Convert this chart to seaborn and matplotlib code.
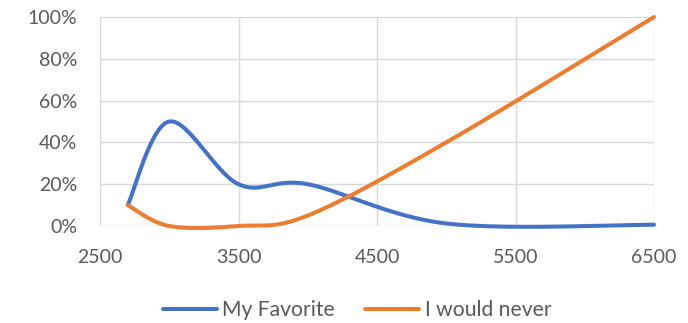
import numpy as np
import pandas as pd
import matplotlib
matplotlib.use("Agg")
import matplotlib.pyplot as plt
import seaborn as sns
from matplotlib.ticker import FuncFormatter
from matplotlib.lines import Line2D

# Data: share of votes per colour temperature (K)
x_values = [2700, 3000, 3500, 4000, 5000, 6500]
my_favorite = [0.10, 0.50, 0.20, 0.20, 0.012, 0.006]
would_never = [0.10, 0.0, 0.0, 0.05, 0.40, 1.00]
series_names = ["My Favorite", "I would never"]
colors = ["#4472C4", "#ED7D31"]
x_ticks = [2500, 3500, 4500, 5500, 6500]
y_ticks = [0, 0.2, 0.4, 0.6, 0.8, 1.0]


def smooth_curve(xs, ys, steps=60):
    """Bezier smoothing through the given points (spreadsheet-style smoothed line)."""
    p = np.column_stack([xs, ys]).astype(float)
    n = len(p)
    out = []
    for i in range(n - 1):
        p0 = p[i - 1] if i > 0 else p[i]
        p1, p2 = p[i], p[i + 1]
        p3 = p[i + 2] if i + 2 < n else p[i + 1]
        c1 = p1 + (p2 - p0) / 6.0
        c2 = p2 - (p3 - p1) / 6.0
        t = np.linspace(0, 1, steps, endpoint=(i == n - 2))[:, None]
        seg = ((1 - t) ** 3) * p1 + 3 * ((1 - t) ** 2) * t * c1 \
            + 3 * (1 - t) * t ** 2 * c2 + t ** 3 * p2
        out.append(seg)
    return np.vstack(out)


frames = []
for name, ys in zip(series_names, [my_favorite, would_never]):
    c = smooth_curve(x_values, ys)
    frames.append(pd.DataFrame({"x": c[:, 0], "y": c[:, 1], "series": name}))
df = pd.concat(frames, ignore_index=True)

sns.set_theme(style="white")
plt.rcParams["font.family"] = ["Lato", "DejaVu Sans"]

fig = plt.figure(figsize=(6.88, 3.23), dpi=100)
ax = fig.add_axes([100 / 688, 1 - 226 / 323, 554 / 688, 209 / 323])

sns.lineplot(data=df, x="x", y="y", hue="series", hue_order=series_names,
             palette=colors, sort=False, estimator=None,
             linewidth=2.9, ax=ax, legend=False, solid_capstyle="round")
for ln in ax.lines:
    ln.set_clip_on(False)

ax.set_xlim(2500, 6500)
ax.set_ylim(0, 1.0)
ax.set_xticks(x_ticks)
ax.set_yticks(y_ticks)
ax.yaxis.set_major_formatter(FuncFormatter(lambda v, _: f"{v * 100:.0f}%"))
ax.grid(True, color="#D9D9D9", linewidth=1.0)
ax.set_axisbelow(True)
for s in ax.spines.values():
    s.set_visible(False)
ax.tick_params(axis="both", length=0, labelsize=14, labelcolor="#595959")
ax.tick_params(axis="x", pad=16.5)
ax.tick_params(axis="y", pad=16.5)
ax.set_xlabel("")
ax.set_ylabel("")

handles = [Line2D([0], [0], color=c, lw=2.9, solid_capstyle="round") for c in colors]
fig.legend(handles, series_names, loc="center left",
           bbox_to_anchor=(163 / 688, 1 - 310 / 323),
           ncol=2, frameon=False, fontsize=15.2, handlelength=2.55,
           handletextpad=0.25, columnspacing=1.45, labelcolor="#595959",
           borderpad=0, borderaxespad=0)

fig.savefig("out.png", dpi=100)
